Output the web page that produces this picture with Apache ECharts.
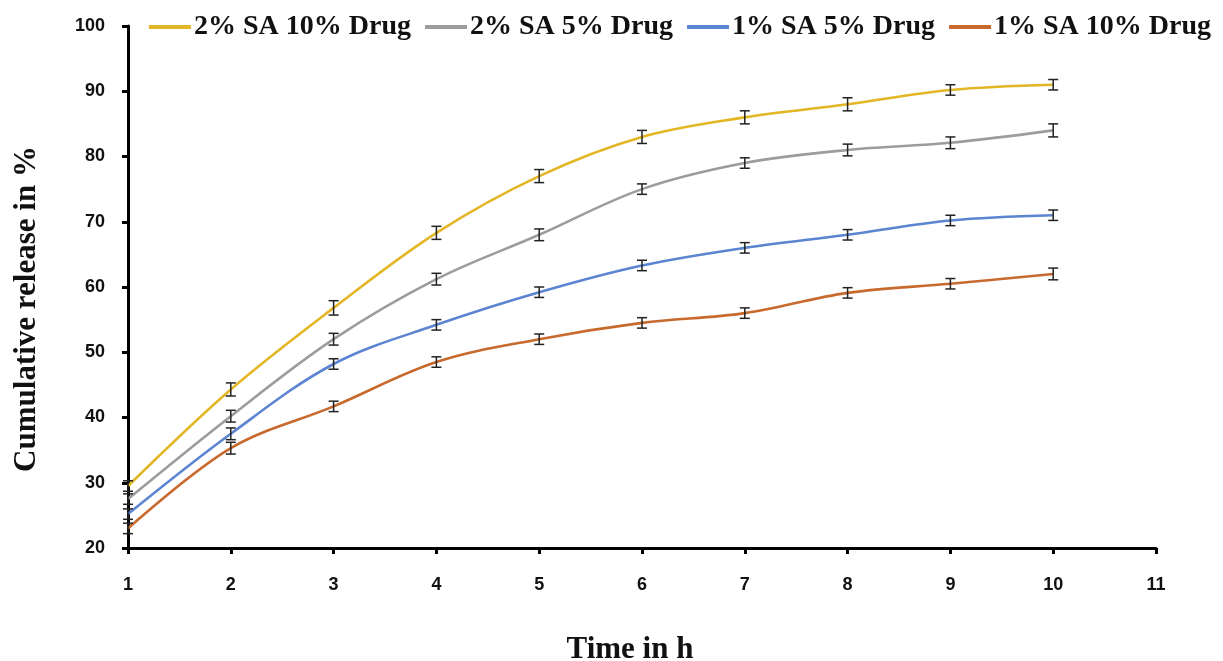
<!DOCTYPE html>
<html>
<head>
<meta charset="utf-8">
<script src="https://cdn.jsdelivr.net/npm/echarts@6/dist/echarts.min.js"></script>
<style>
  html, body { margin: 0; padding: 0; background: #fff; }
  #main { width: 1223px; height: 661px; }
</style>
</head>
<body>
<div id="main"></div>
<script>
var chart = echarts.init(document.getElementById('main'));

// time points (h)
var hours = [1, 2, 3, 4, 5, 6, 7, 8, 9, 10];

var names = ['2% SA 10% Drug', '2% SA 5% Drug', '1% SA 5% Drug', '1% SA 10% Drug'];
var colors = ['#E3B626', '#9C9C9C', '#5B84D1', '#C8692E'];

// cumulative release, %
var sa2drug10 = [29.5, 44.3, 56.8, 68.3, 77.0, 83.0, 86.0, 88.0, 90.2, 91.0];
var sa2drug5  = [27.5, 40.2, 52.0, 61.2, 68.0, 75.0, 79.0, 81.0, 82.1, 84.0];
var sa1drug5  = [25.2, 37.5, 48.2, 54.2, 59.2, 63.3, 66.0, 68.0, 70.2, 71.0];
var sa1drug10 = [23.0, 35.3, 41.7, 48.5, 52.0, 54.5, 56.0, 59.1, 60.5, 62.0];

// +/- error
var err2_10 = [0.8, 1.0, 1.1, 1.0, 1.0, 1.0, 1.0, 1.0, 0.8, 0.8];
var err2_5  = [0.8, 0.9, 0.9, 0.9, 0.9, 0.8, 0.8, 0.9, 0.9, 1.0];
var err1_5  = [0.8, 0.9, 0.8, 0.8, 0.8, 0.8, 0.8, 0.8, 0.8, 0.8];
var err1_10 = [0.8, 0.9, 0.8, 0.8, 0.8, 0.8, 0.8, 0.8, 0.8, 0.9];

var allData = [sa2drug10, sa2drug5, sa1drug5, sa1drug10];
var allErr = [err2_10, err2_5, err1_5, err1_10];

function pairs(ys) {
  return hours.map(function (h, i) { return [h, ys[i]]; });
}

function errRows(ys, es) {
  return hours.map(function (h, i) { return [h, ys[i] - es[i], ys[i] + es[i]]; });
}

function renderErr(params, api) {
  var lo = api.coord([api.value(0), api.value(1)]);
  var hi = api.coord([api.value(0), api.value(2)]);
  var w = 5;
  var st = { stroke: '#222', lineWidth: 1.5 };
  return {
    type: 'group',
    children: [
      { type: 'line', shape: { x1: lo[0], y1: lo[1], x2: hi[0], y2: hi[1] }, style: st },
      { type: 'line', shape: { x1: lo[0] - w, y1: lo[1], x2: lo[0] + w, y2: lo[1] }, style: st },
      { type: 'line', shape: { x1: hi[0] - w, y1: hi[1], x2: hi[0] + w, y2: hi[1] }, style: st }
    ]
  };
}

var series = [];
names.forEach(function (n, k) {
  series.push({
    name: n,
    type: 'line',
    data: pairs(allData[k]),
    smooth: 0.35,
    symbol: 'none',
    z: 3,
    lineStyle: { color: colors[k], width: 2.6 },
    itemStyle: { color: colors[k] }
  });
});
names.forEach(function (n, k) {
  series.push({
    name: n + ' err',
    type: 'custom',
    renderItem: renderErr,
    data: errRows(allData[k], allErr[k]),
    z: 4,
    silent: true
  });
});

var tickFont = { color: '#111', fontWeight: 'bold', fontSize: 18, fontFamily: 'Liberation Sans' };

var option = {
  animation: false,
  backgroundColor: '#fff',
  legend: {
    data: names,
    top: 8,
    left: 144,
    right: 0,
    itemWidth: 42,
    itemHeight: 4,
    itemGap: 14,
    icon: 'rect',
    textStyle: { color: '#111', fontWeight: 'bold', fontSize: 28, fontFamily: 'Liberation Serif', padding: [0, 0, 0, -2] }
  },
  grid: { left: 128, right: 67, top: 26, bottom: 113, containLabel: false, outerBoundsMode: 'none' },
  xAxis: {
    type: 'value',
    min: 1,
    max: 11,
    interval: 1,
    name: 'Time in h',
    nameLocation: 'middle',
    nameGap: 86,
    nameTextStyle: { color: '#111', fontWeight: 'bold', fontSize: 31, fontFamily: 'Liberation Serif', padding: [0, 24, 0, 0] },
    axisLine: { lineStyle: { color: '#000', width: 3 } },
    axisTick: { length: 6, lineStyle: { color: '#000', width: 3 } },
    axisLabel: Object.assign({ margin: 28 }, tickFont),
    splitLine: { show: false }
  },
  yAxis: {
    type: 'value',
    min: 20,
    max: 100,
    interval: 10,
    name: 'Cumulative release in %',
    nameLocation: 'middle',
    nameGap: 86,
    nameTextStyle: { color: '#111', fontWeight: 'bold', fontSize: 31, fontFamily: 'Liberation Serif', padding: [0, 44, 0, 0] },
    axisLine: { show: true, lineStyle: { color: '#000', width: 3 } },
    axisTick: { show: true, length: 6, lineStyle: { color: '#000', width: 3 } },
    axisLabel: Object.assign({ margin: 23 }, tickFont),
    splitLine: { show: false }
  },
  series: series
};

chart.setOption(option);
</script>
</body>
</html>
